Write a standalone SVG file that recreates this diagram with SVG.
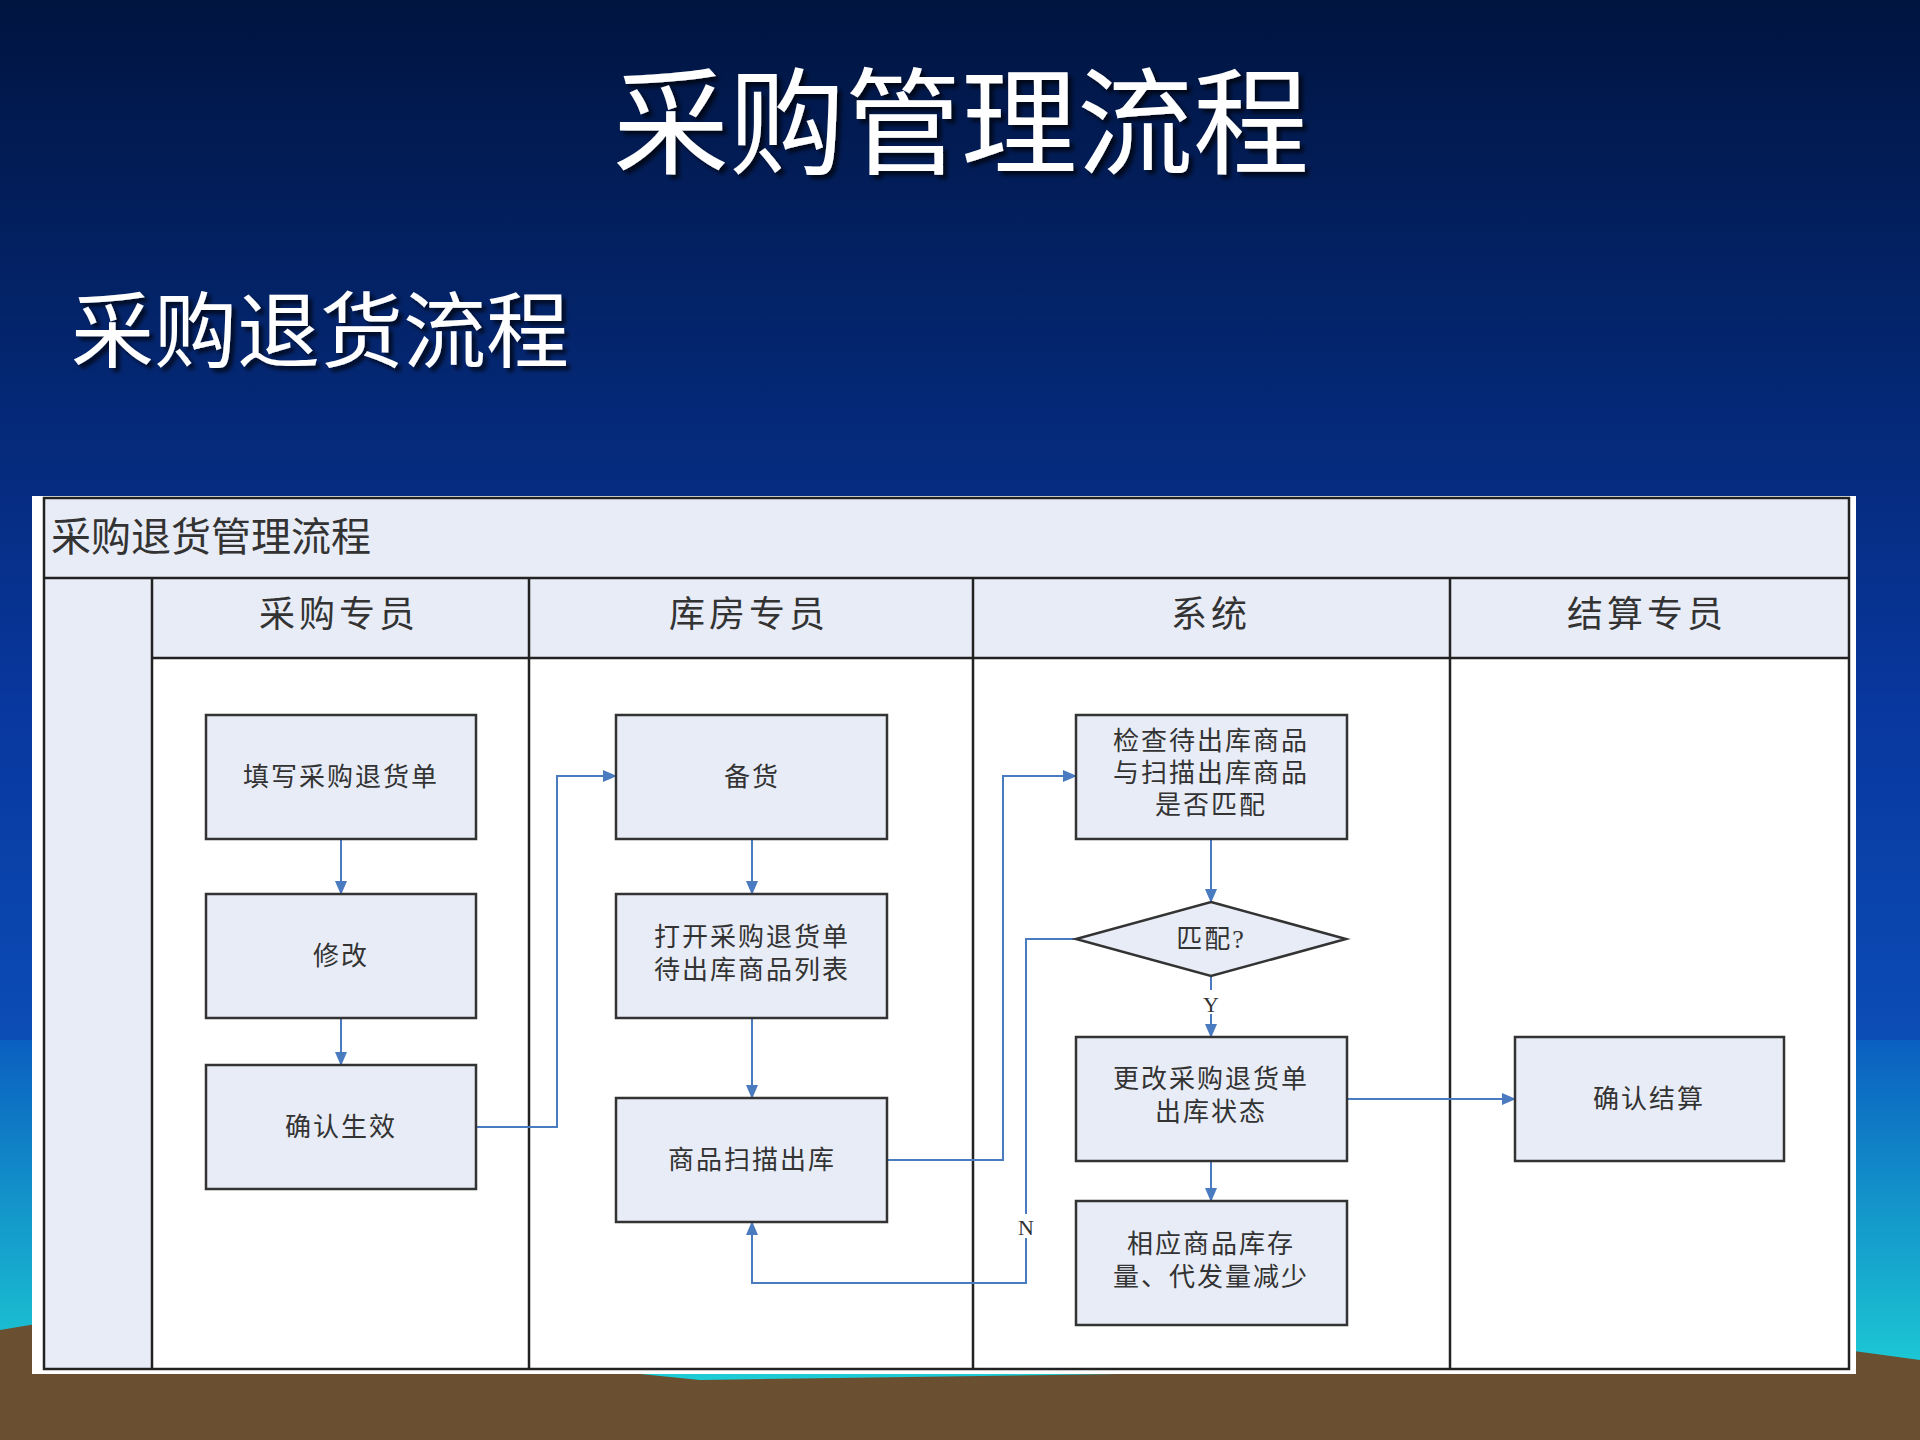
<svg xmlns="http://www.w3.org/2000/svg" width="1920" height="1440" viewBox="0 0 1920 1440">
<defs>
<linearGradient id="bg" x1="0" y1="0" x2="0" y2="1"><stop offset="0" stop-color="#001440"/><stop offset="0.5" stop-color="#0838a0"/><stop offset="0.75" stop-color="#0c4fb8"/><stop offset="1" stop-color="#1aa0c8"/></linearGradient>
<linearGradient id="sea" x1="0" y1="0" x2="0" y2="1"><stop offset="0" stop-color="#0a5fc0"/><stop offset="1" stop-color="#20e0d8"/></linearGradient>
<marker id="ar" markerWidth="14" markerHeight="12" refX="13" refY="6" orient="auto" markerUnits="userSpaceOnUse"><path d="M0,0 L14,6 L0,12 z" fill="#4a7ac0"/></marker>
<filter id="sh"><feDropShadow dx="4" dy="4" stdDeviation="2" flood-color="#000" flood-opacity="0.7"/></filter>
<style>
.t{font-family:"Liberation Serif","Noto Sans CJK SC",serif;fill:#333}
.bx{fill:#e8ecf6;stroke:#333;stroke-width:2.5}
.c{fill:none;stroke:#4a7ac0;stroke-width:2}
.ln{stroke:#222;stroke-width:2.5;fill:none}
</style>
</defs>
<rect width="1920" height="1440" fill="url(#bg)"/>
<rect y="1040" width="1920" height="400" fill="url(#sea)"/>
<path d="M0,1330 L120,1310 L300,1340 L700,1380 L1400,1370 L1700,1330 L1920,1360 L1920,1440 L0,1440 z" fill="#6a5030"/>
<text x="961" y="165" text-anchor="middle" font-size="116" fill="#fff" filter="url(#sh)" font-family="Liberation Serif,Noto Sans CJK SC,serif">采购管理流程</text>
<text x="71" y="361" font-size="83" fill="#fff" filter="url(#sh)" font-family="Liberation Serif,Noto Sans CJK SC,serif">采购退货流程</text>
<rect x="32" y="496" width="1824" height="878" fill="#fff"/>
<rect x="44" y="498" width="1805" height="80" fill="#e8ecf6"/>
<rect x="44" y="578" width="108" height="791" fill="#e8ecf6"/>
<rect x="152" y="578" width="1697" height="80" fill="#e8ecf6"/>
<g id="frame">
<rect class="ln" x="44" y="498" width="1805" height="871"/>
<line class="ln" x1="44" y1="578" x2="1849" y2="578"/>
<line class="ln" x1="152" y1="658" x2="1849" y2="658"/>
<line class="ln" x1="152" y1="578" x2="152" y2="1369"/>
<line class="ln" x1="529" y1="578" x2="529" y2="1369"/>
<line class="ln" x1="973" y1="578" x2="973" y2="1369"/>
<line class="ln" x1="1450" y1="578" x2="1450" y2="1369"/>
</g>
<text class="t" x="51" y="551" font-size="40">采购退货管理流程</text>
<g class="t" font-size="36" text-anchor="middle" letter-spacing="4">
<text x="339" y="627">采购专员</text><text x="749" y="627">库房专员</text><text x="1211" y="627">系统</text><text x="1647" y="627">结算专员</text>
</g>
<g id="connectors">
<path class="c" marker-end="url(#ar)" d="M341,839 V894"/>
<path class="c" marker-end="url(#ar)" d="M341,1018 V1065"/>
<path class="c" marker-end="url(#ar)" d="M476,1127 H557 V776 H616"/>
<path class="c" marker-end="url(#ar)" d="M752,839 V894"/>
<path class="c" marker-end="url(#ar)" d="M752,1018 V1098"/>
<path class="c" marker-end="url(#ar)" d="M887,1160 H1003 V776 H1076"/>
<path class="c" marker-end="url(#ar)" d="M1211,839 V902"/>
<path class="c" marker-end="url(#ar)" d="M1211,976 V1037"/>
<path class="c" marker-end="url(#ar)" d="M1211,1161 V1201"/>
<path class="c" marker-end="url(#ar)" d="M1076,939 H1026 V1283 H752 V1222"/>
<path class="c" marker-end="url(#ar)" d="M1347,1099 H1515"/>
<rect x="1198" y="990" width="26" height="24" fill="#fff"/>
<text class="t" x="1211" y="1012" font-size="22" text-anchor="middle">Y</text>
<rect x="1014" y="1214" width="24" height="24" fill="#fff"/>
<text class="t" x="1026" y="1235" font-size="22" text-anchor="middle">N</text>
</g>
<g class="t" font-size="26" text-anchor="middle" letter-spacing="2">
<g id="n1"><rect class="bx" x="206" y="715" width="270" height="124"/><text x="341" y="786">填写采购退货单</text></g>
<g id="n2"><rect class="bx" x="206" y="894" width="270" height="124"/><text x="341" y="965">修改</text></g>
<g id="n3"><rect class="bx" x="206" y="1065" width="270" height="124"/><text x="341" y="1136">确认生效</text></g>
<g id="n4"><rect class="bx" x="616" y="715" width="271" height="124"/><text x="752" y="786">备货</text></g>
<g id="n5"><rect class="bx" x="616" y="894" width="271" height="124"/><text x="752" y="946">打开采购退货单</text><text x="752" y="979">待出库商品列表</text></g>
<g id="n6"><rect class="bx" x="616" y="1098" width="271" height="124"/><text x="752" y="1169">商品扫描出库</text></g>
<g id="n7"><rect class="bx" x="1076" y="715" width="271" height="124"/><text x="1211" y="750">检查待出库商品</text><text x="1211" y="782">与扫描出库商品</text><text x="1211" y="814">是否匹配</text></g>
<g id="n8"><polygon class="bx" points="1211,902 1346,939 1211,976 1076,939"/><text x="1211" y="948">匹配?</text></g>
<g id="n9"><rect class="bx" x="1076" y="1037" width="271" height="124"/><text x="1211" y="1088">更改采购退货单</text><text x="1211" y="1121">出库状态</text></g>
<g id="n10"><rect class="bx" x="1076" y="1201" width="271" height="124"/><text x="1211" y="1253">相应商品库存</text><text x="1211" y="1286">量、代发量减少</text></g>
<g id="n11"><rect class="bx" x="1515" y="1037" width="269" height="124"/><text x="1649" y="1108">确认结算</text></g>
</g>
</svg>
